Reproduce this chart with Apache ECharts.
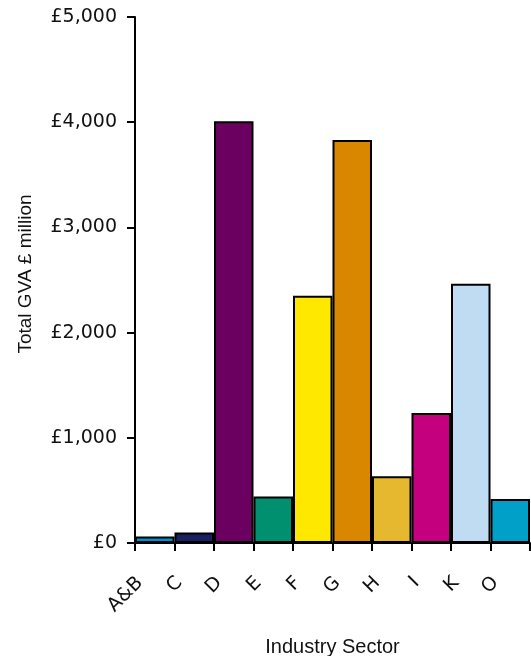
<!DOCTYPE html>
<html>
<head>
<meta charset="utf-8">
<script src="https://cdn.jsdelivr.net/npm/echarts@6/dist/echarts.min.js"></script>
<style>html,body{margin:0;padding:0;background:#fff}#chart{width:531px;height:656px}</style>
</head>
<body>
<div id="chart"></div>
<script>
var categories = ['A&B', 'C', 'D', 'E', 'F', 'G', 'H', 'I', 'K', 'O'];
var values = [62, 100, 4010, 443, 2350, 3830, 635, 1235, 2465, 418];
var barColors = ['#0090d0', '#1a2060', '#6b0060', '#009070', '#ffe800', '#d98600', '#e6b830', '#c4007f', '#c0dcf2', '#00a0c8'];
var yTicks = [0, 1000, 2000, 3000, 4000, 5000];
var labelCats = categories.concat(['']);

var chart = echarts.init(document.getElementById('chart'));
var tickFont = 'DejaVu Sans';
chart.setOption({
  animation: false,
  backgroundColor: '#fff',
  grid: [
    {left: 135, right: 1, top: 17, bottom: 113, containLabel: false, outerBoundsMode: 'none'},
    {left: 140, right: -4, top: 17, bottom: 113, containLabel: false, outerBoundsMode: 'none'}
  ],
  xAxis: [{
    type: 'category',
    gridIndex: 0,
    data: categories,
    axisLine: {lineStyle: {color: '#000', width: 2}},
    axisTick: {show: true, length: 8, lineStyle: {color: '#000', width: 2}},
    axisLabel: {show: false},
    name: 'Industry Sector',
    nameLocation: 'middle',
    nameGap: 94,
    nameTextStyle: {fontFamily: 'Liberation Sans', fontSize: 20, color: '#111'}
  }, {
    type: 'category',
    gridIndex: 1,
    data: labelCats,
    boundaryGap: false,
    axisLine: {show: false},
    axisTick: {show: false},
    axisLabel: {rotate: 45, margin: 37, interval: 0, hideOverlap: false, fontFamily: tickFont, fontSize: 19, color: '#111'}
  }],
  yAxis: [{
    type: 'value',
    gridIndex: 0,
    min: yTicks[0],
    max: yTicks[yTicks.length - 1],
    interval: 1000,
    splitLine: {show: false},
    axisLine: {show: true, lineStyle: {color: '#000', width: 2}},
    axisTick: {show: true, length: 8, lineStyle: {color: '#000', width: 2}},
    axisLabel: {
      margin: 18,
      fontFamily: tickFont, fontSize: 19, color: '#111',
      formatter: function (v) { return '£' + v.toLocaleString('en-GB'); }
    },
    name: 'Total GVA £ million',
    nameLocation: 'middle',
    nameGap: 100,
    nameTextStyle: {fontFamily: 'Liberation Sans', fontSize: 19, color: '#111', padding: [0, 0, 0, 12]}
  }, {
    type: 'value',
    gridIndex: 1,
    show: false,
    min: 0,
    max: 5000
  }],
  series: [{
    type: 'bar',
    xAxisIndex: 0,
    yAxisIndex: 0,
    barCategoryGap: '0%',
    data: values.map(function (v, i) {
      return {value: v, itemStyle: {color: barColors[i]}};
    }),
    itemStyle: {borderColor: '#000', borderWidth: 2}
  }, {
    type: 'line',
    xAxisIndex: 1,
    yAxisIndex: 1,
    data: [],
    silent: true
  }]
});
</script>
</body>
</html>
